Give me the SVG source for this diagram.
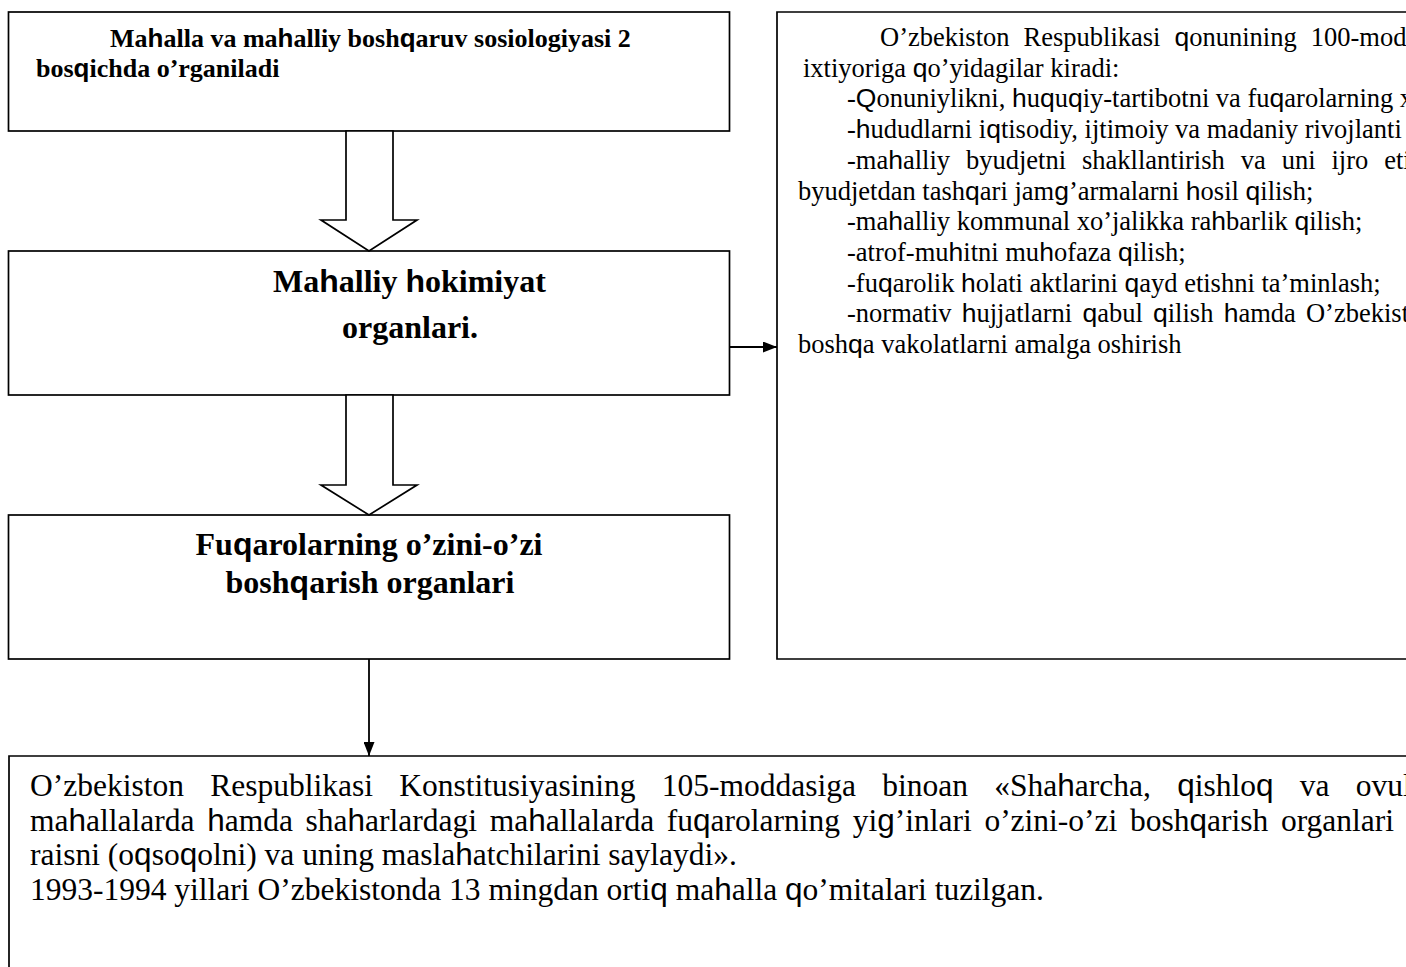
<svg xmlns="http://www.w3.org/2000/svg" width="1406" height="967" viewBox="0 0 1406 967">
<style>
.box{fill:#fff;stroke:#000;stroke-width:1.7}
.open{fill:none;stroke:#000;stroke-width:1.7}
.blk{fill:#fff;stroke:#000;stroke-width:1.7;stroke-linejoin:miter}
.con{fill:none;stroke:#000;stroke-width:1.8}
.t{font-family:"Liberation Serif","Times New Roman",serif;fill:#000}
.b{font-weight:bold}
.s{font-family:"Liberation Sans",Arial,sans-serif}
.r{font-size:26.5px}
.bx1{font-size:26px}
.big{font-size:32px}
.bot{font-size:31.5px}
</style>
<defs>
<marker id="ah" viewBox="0 0 14 11" refX="14" refY="5.5" markerWidth="14" markerHeight="11" markerUnits="userSpaceOnUse" orient="auto">
<path d="M0,0 L14,5.5 L0,11 Z" fill="#000"/>
</marker>
</defs>
<rect width="1406" height="967" fill="#fff"/>

<g id="node-stages">
<rect class="box" x="8.5" y="12" width="721" height="119"/>
<text class="t b bx1" x="110" y="47">Ma<tspan class="s">h</tspan>alla va ma<tspan class="s">h</tspan>alliy bosh<tspan class="s">q</tspan>aruv sosiologiyasi 2</text>
<text class="t b bx1" x="36" y="77">bos<tspan class="s">q</tspan>ichda o’rganiladi</text>
</g>

<g id="node-hokimiyat">
<rect class="box" x="8.5" y="251" width="721" height="144"/>
<text class="t b big" x="273" y="292">Ma<tspan class="s">h</tspan>alliy <tspan class="s">h</tspan>okimiyat</text>
<text class="t b big" x="342" y="338">organlari.</text>
</g>

<g id="node-fuqarolar">
<rect class="box" x="8.5" y="515" width="721" height="144"/>
<text class="t b big" x="369" y="555" text-anchor="middle">Fu<tspan class="s">q</tspan>arolarning o’zini-o’zi</text>
<text class="t b big" x="370" y="593" text-anchor="middle">bosh<tspan class="s">q</tspan>arish organlari</text>
</g>

<g id="node-vakolatlar">
<path class="open" d="M1406,12 H777 V659 H1406"/>
<text class="t r" x="880" y="46" word-spacing="7.4">O’zbekiston Respublikasi <tspan class="s">q</tspan>onunining 100-mod</text>
<text class="t r" x="803" y="76.7">ixtiyoriga <tspan class="s">q</tspan>o’yidagilar kiradi:</text>
<text class="t r" x="847" y="107.4">-<tspan class="s">Q</tspan>onuniylikni, <tspan class="s">h</tspan>u<tspan class="s">q</tspan>u<tspan class="s">q</tspan>iy-tartibotni va fu<tspan class="s">q</tspan>arolarning x</text>
<text class="t r" x="847" y="138.1">-<tspan class="s">h</tspan>udud<tspan>larni</tspan> i<tspan class="s">q</tspan>tisodiy, ijtimoiy va madaniy rivojlanti</text>
<text class="t r" x="847" y="168.8" word-spacing="9.3">-ma<tspan class="s">h</tspan>alliy byudjetni shakllantirish va uni ijro eti</text>
<text class="t r" x="798" y="199.5">byudjetdan tash<tspan class="s">q</tspan>ari jam<tspan class="s">g</tspan>’armalarni <tspan class="s">h</tspan>osil <tspan class="s">q</tspan>ilish;</text>
<text class="t r" x="847" y="230.2">-ma<tspan class="s">h</tspan>alliy kommunal xo’jalikka ra<tspan class="s">h</tspan>barlik <tspan class="s">q</tspan>ilish;</text>
<text class="t r" x="847" y="260.9">-atrof-mu<tspan class="s">h</tspan>itni mu<tspan class="s">h</tspan>ofaza <tspan class="s">q</tspan>ilish;</text>
<text class="t r" x="847" y="291.6">-fu<tspan class="s">q</tspan>arolik <tspan class="s">h</tspan>olati aktlarini <tspan class="s">q</tspan>ayd etishni ta’minlash;</text>
<text class="t r" x="847" y="322.3" word-spacing="3.6">-normativ <tspan class="s">h</tspan>ujjatlarni <tspan class="s">q</tspan>abul <tspan class="s">q</tspan>ilish <tspan class="s">h</tspan>amda O’zbekist</text>
<text class="t r" x="798" y="353">bosh<tspan class="s">q</tspan>a vakolatlarni amalga oshirish</text>
</g>

<g id="node-konstitutsiya">
<path class="open" d="M1406,756 H9 V967"/>
<text class="t bot" x="30" y="796" word-spacing="18.4">O’zbekiston Respublikasi Konstitusiyasining 105-moddasiga binoan «Sha<tspan class="s">h</tspan>archa, <tspan class="s">q</tspan>ishlo<tspan class="s">q</tspan> va ovul</text>
<text class="t bot" x="30" y="830.5" word-spacing="4.8">ma<tspan class="s">h</tspan>allalarda <tspan class="s">h</tspan>amda sha<tspan class="s">h</tspan>arlardagi ma<tspan class="s">h</tspan>allalarda fu<tspan class="s">q</tspan>arolarning yi<tspan class="s">g</tspan>’inlari o’zini-o’zi bosh<tspan class="s">q</tspan>arish organlari</text>
<text class="t bot" x="30" y="865">raisni (o<tspan class="s">q</tspan>so<tspan class="s">q</tspan>olni) va uning masla<tspan class="s">h</tspan>atchilarini saylaydi».</text>
<text class="t bot" x="30" y="899.5">1993-1994 yillari O’zbekistonda 13 mingdan orti<tspan class="s">q</tspan> ma<tspan class="s">h</tspan>alla <tspan class="s">q</tspan>o’mitalari tuzilgan.</text>
</g>

<g id="connectors">
<path class="blk" d="M346,131 V220 H321 L369,251 L417,220 H393 V131 Z"/>
<path class="blk" d="M346,395 V485 H321 L369,515 L417,485 H393 V395 Z"/>
<line class="con" x1="730" y1="347" x2="777" y2="347" marker-end="url(#ah)"/>
<line class="con" x1="369" y1="659" x2="369" y2="756" marker-end="url(#ah)"/>
</g>
</svg>
